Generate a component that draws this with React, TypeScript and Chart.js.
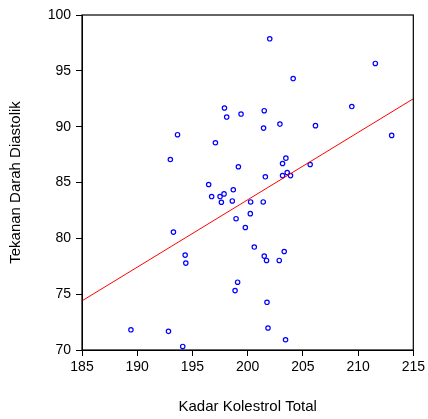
import React, { useEffect, useRef } from "react";
import { Chart, registerables } from "chart.js";

Chart.register(...registerables);

const kolestrol: number[] = [
  197.9, 198.1, 199.4, 193.65, 197.08, 193.0, 199.16, 196.47, 198.7, 202.0,
  211.56, 204.12, 201.5, 209.43, 201.44, 202.92, 206.14, 213.04, 203.46, 203.16,
  205.66, 201.6, 203.58, 203.16, 203.88, 196.74, 197.5, 197.86, 197.62, 198.61,
  198.95, 199.79, 193.28, 194.34, 194.4, 199.09, 198.86, 189.43, 192.83, 194.12,
  200.27, 201.41, 200.24, 200.6, 201.5, 203.31, 201.71, 202.86, 201.75, 201.84,
  203.43,
];
const diastolik: number[] = [
  91.67, 90.86, 91.13, 89.28, 88.56, 87.06, 86.41, 84.82, 84.35, 97.87,
  95.66, 94.31, 91.43, 91.8, 89.87, 90.23, 90.09, 89.22, 87.18, 86.7,
  86.61, 85.51, 85.89, 85.62, 85.62, 83.74, 83.74, 83.98, 83.23, 83.35,
  81.76, 80.97, 80.56, 78.5, 77.78, 76.07, 75.32, 71.81, 71.67, 70.32,
  83.26, 83.26, 82.21, 79.22, 78.41, 78.82, 78.02, 78.02, 74.27, 71.97,
  70.92,
];
const lineX: number[] = [185, 215];
const lineY: number[] = [74.4, 92.5];

const xTitle = "Kadar Kolestrol Total";
const yTitle = "Tekanan Darah Diastolik";

const frame = {
  id: "frame",
  afterDatasetsDraw(chart: any) {
    const { ctx, chartArea } = chart;
    ctx.save();
    ctx.strokeStyle = "#000";
    ctx.lineWidth = 1.2;
    ctx.strokeRect(chartArea.left, chartArea.top, chartArea.right - chartArea.left, chartArea.bottom - chartArea.top);
    ctx.restore();
  },
};

export default function App() {
  const ref = useRef<HTMLCanvasElement>(null);
  useEffect(() => {
    if (!ref.current) return;
    const tickFont = { family: "'Liberation Sans', Arial, sans-serif", size: 14 };
    const titleFont = { family: "'Liberation Sans', Arial, sans-serif", size: 15 };
    const chart = new Chart(ref.current, {
      type: "scatter",
      data: {
        datasets: [
          {
            type: "line",
            data: lineX.map((x, i) => ({ x, y: lineY[i] })),
            borderColor: "#ff0000",
            borderWidth: 1,
            pointRadius: 0,
            fill: false,
          } as any,
          {
            data: kolestrol.map((x, i) => ({ x, y: diastolik[i] })),
            borderColor: "#0000ff",
            backgroundColor: "#ffffff",
            borderWidth: 1.2,
            pointRadius: 2.2,
          },
        ],
      },
      options: {
        animation: false,
        responsive: false,
        layout: { padding: { left: 0, top: 15, right: 13, bottom: 0 } },
        plugins: { legend: { display: false }, tooltip: { enabled: false } },
        scales: {
          x: {
            type: "linear",
            min: 185,
            max: 215,
            ticks: { stepSize: 5, color: "#000", font: tickFont, padding: 3 },
            grid: { drawOnChartArea: false, tickLength: 6, color: "#000" },
            border: { color: "#000" },
            title: { display: true, text: xTitle, color: "#000", font: titleFont, padding: { top: 0, bottom: 3 } },
            afterFit(scale: any) {
              scale.height = 69;
            },
          },
          y: {
            type: "linear",
            min: 70,
            max: 100,
            ticks: { stepSize: 5, color: "#000", font: tickFont, padding: 5 },
            grid: { drawOnChartArea: false, tickLength: 6, color: "#000" },
            border: { color: "#000" },
            title: { display: true, text: yTitle, color: "#000", font: titleFont, padding: { top: 7, bottom: 0 } },
            afterFit(scale: any) {
              scale.width = 82;
            },
          },
        },
      },
      plugins: [frame],
    });
    return () => chart.destroy();
  }, []);
  return (
    <div style={{ position: "fixed", left: 0, top: 0, width: 428, height: 419, background: "#fff" }}>
      <canvas ref={ref} width={428} height={419} style={{ width: 428, height: 419 }} />
    </div>
  );
}
